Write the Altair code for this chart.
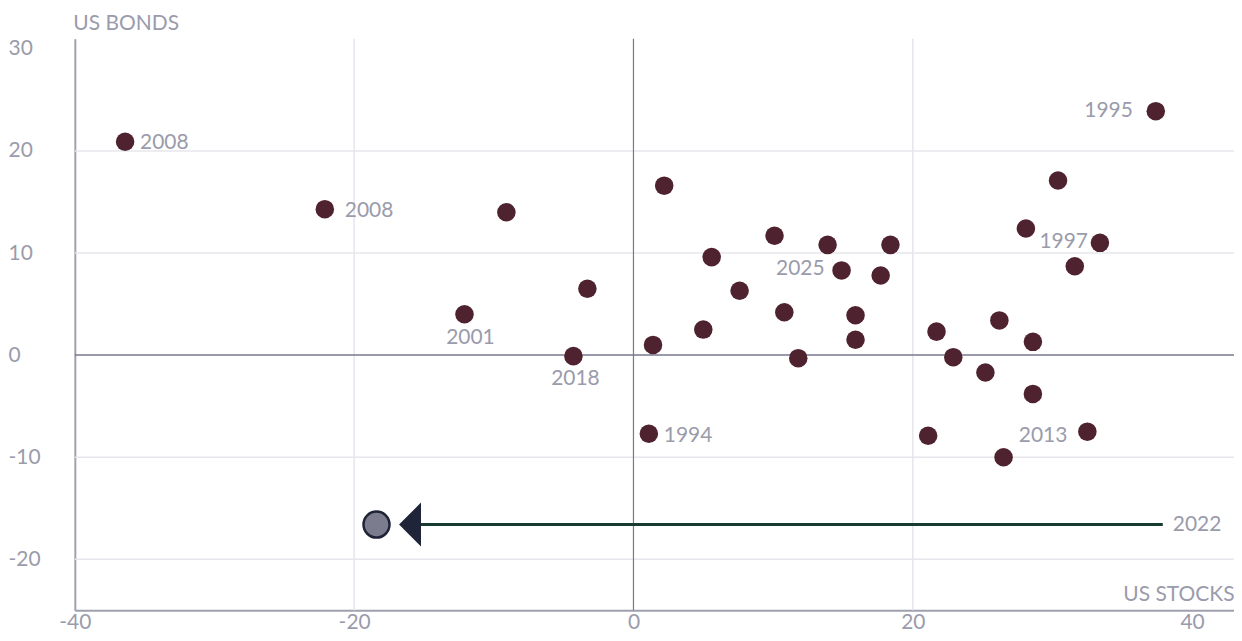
import altair as alt
import pandas as pd

# ---- data ----
stocks = [-36.4, -22.1, -9.1, -12.1, -3.3, -4.3, 1.4, 2.2, 1.1, 5.0, 5.6, 7.6,
          10.1, 10.8, 11.8, 13.9, 14.9, 15.9, 15.9, 17.7, 18.4, 21.1, 21.7, 22.9,
          25.2, 26.2, 26.5, 28.1, 28.6, 28.6, 30.4, 31.6, 32.5, 33.4, 37.4]
bonds = [20.9, 14.3, 14.0, 4.0, 6.5, -0.1, 1.0, 16.6, -7.7, 2.5, 9.6, 6.3,
         11.7, 4.2, -0.3, 10.8, 8.3, 3.9, 1.5, 7.8, 10.8, -7.9, 2.3, -0.2,
         -1.7, 3.4, -10.0, 12.4, -3.8, 1.3, 17.1, 8.7, -7.5, 11.0, 23.9]
years = ["2008", "2008", "", "2001", "", "2018", "", "", "1994", "", "", "",
         "", "", "", "", "2025", "", "", "", "", "", "", "",
         "", "", "", "", "", "", "", "", "2013", "1997", "1995"]

highlight_year = "2022"
highlight_stocks = -18.4
highlight_bonds = -16.6
arrow_start = 37.9
arrow_head = -16.0

x_ticks = [-40, -20, 0, 20, 40]
y_ticks = [-20, -10, 0, 10, 20, 30]
x_grid = [-20, 20]
y_grid = [-20, -10, 10, 20]

# ---- styles ----
FONT = "Lato"
TXT = "#9a9bab"
MAROON = "#4f2230"
FS = 21
FW = 400

# label placement (align, dx, dy) keyed by point index
label_style = {
    0: ("left", 15, 1), 1: ("left", 20, 2), 3: ("center", 6, 24),
    5: ("center", 2, 23), 8: ("left", 15, 2), 16: ("right", -17, -1),
    32: ("right", -20, 4), 33: ("right", -12, -1), 34: ("right", -23, 0),
}

df = pd.DataFrame({"stocks": stocks, "bonds": bonds, "year": years})

xs = alt.Scale(domain=[-40, 43], nice=False, zero=False)
ys = alt.Scale(domain=[-25, 31], nice=False, zero=False)

x_axis = alt.Axis(values=x_ticks, grid=False, ticks=False, tickSize=0,
                  domainColor="#9fa0ae", domainWidth=2, labelFont=FONT,
                  labelFontSize=FS, labelFontWeight=FW, labelColor=TXT,
                  labelExpr="'' + datum.value", labelFlush=False,
                  labelPadding=1, title="US STOCKS", titleFont=FONT,
                  titleFontSize=FS, titleFontWeight=FW, titleColor=TXT,
                  titleAlign="right", titleBaseline="alphabetic",
                  titleX=1162, titleY=-10, titleAngle=0)
y_axis = alt.Axis(values=y_ticks, grid=False, ticks=False, tickSize=0,
                  domainColor="#9fa0ae", domainWidth=2, labelFont=FONT,
                  labelFontSize=FS, labelFontWeight=FW, labelColor=TXT,
                  labelExpr="'' + datum.value", labelFlush=False,
                  labelAlign="left", labelPadding=67, labelBaseline="middle",
                  title="US BONDS", titleFont=FONT, titleFontSize=FS,
                  titleFontWeight=FW, titleColor=TXT, titleAngle=0,
                  titleAlign="left", titleBaseline="alphabetic",
                  titleX=-2, titleY=-9)


def X(f):
    return alt.X(f, scale=xs, axis=x_axis)


def Y(f):
    return alt.Y(f, scale=ys, axis=y_axis)


grid_y = alt.Chart(pd.DataFrame({"v": y_grid})).mark_rule(
    color="#e6e6ec", strokeWidth=1.5).encode(y=Y("v:Q"))
grid_x = alt.Chart(pd.DataFrame({"v": x_grid})).mark_rule(
    color="#e6e6ec", strokeWidth=1.5).encode(x=X("v:Q"))
zero_y = alt.Chart(pd.DataFrame({"v": [0]})).mark_rule(
    color="#777990", strokeWidth=1.5).encode(y=Y("v:Q"))
zero_x = alt.Chart(pd.DataFrame({"v": [0]})).mark_rule(
    color="#777990", strokeWidth=1.2).encode(x=X("v:Q"))

hl = pd.DataFrame({"x0": [arrow_start], "x1": [arrow_head], "xp": [highlight_stocks],
                   "y": [highlight_bonds], "label": [highlight_year]})
arrow_line = alt.Chart(hl).mark_rule(color="#163b30", strokeWidth=3).encode(
    x=X("x0:Q"), x2="x1:Q", y=Y("y:Q"))
arrow_tri = alt.Chart(hl).mark_point(
    shape="M-0.5,0L0.5,-1L0.5,1Z", size=1936, filled=True, opacity=1,
    color="#1f2438").encode(x=X("x1:Q"), y=Y("y:Q"))
hl_point = alt.Chart(hl).mark_point(
    shape="circle", size=680, filled=True, fill="#7b7d8e", stroke="#1f2336",
    strokeWidth=2.5, opacity=1).encode(x=X("xp:Q"), y=Y("y:Q"))
hl_text = alt.Chart(hl).mark_text(
    align="left", baseline="middle", dx=10, font=FONT, fontSize=FS,
    fontWeight=FW, color=TXT).encode(x=X("x0:Q"), y=Y("y:Q"), text="label:N")

points = alt.Chart(df).mark_circle(size=345, color=MAROON, opacity=1).encode(
    x=X("stocks:Q"), y=Y("bonds:Q"))

label_layers = []
for i, (al, dx, dy) in label_style.items():
    sub = df.iloc[[i]]
    label_layers.append(
        alt.Chart(sub).mark_text(align=al, baseline="middle", dx=dx, dy=dy,
                                 font=FONT, fontSize=FS, fontWeight=FW,
                                 color=TXT).encode(
            x=X("stocks:Q"), y=Y("bonds:Q"), text="year:N"))

chart = alt.layer(
    grid_y, grid_x, zero_y, zero_x, points, arrow_line, arrow_tri, hl_point,
    hl_text, *label_layers
).properties(
    width=1162, height=573,
    background="white",
    autosize=alt.AutoSizeParams(type="none"),
    padding={"left": 67, "top": 30, "right": 0, "bottom": 22},
).configure_view(strokeWidth=0, strokeOpacity=0)

chart.save("out.html", embed_options={"renderer": "svg", "actions": False})
